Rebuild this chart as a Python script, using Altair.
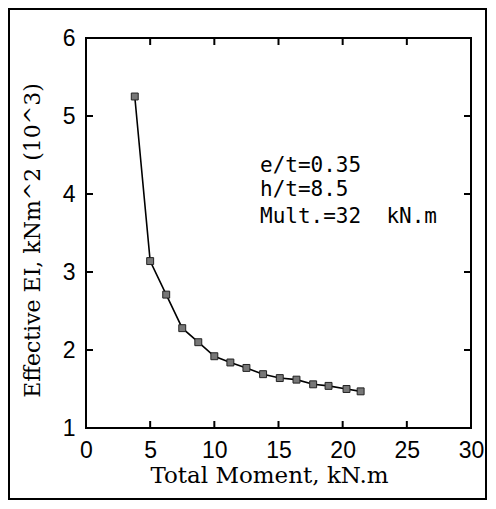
import altair as alt
import pandas as pd

moment = [3.8, 5.0, 6.25, 7.5, 8.75, 10.0, 11.25, 12.5, 13.8, 15.1, 16.4, 17.7, 18.9, 20.3, 21.4]
ei = [5.25, 3.14, 2.71, 2.28, 2.10, 1.92, 1.84, 1.77, 1.69, 1.64, 1.62, 1.56, 1.54, 1.50, 1.47]
x_ticks = [0, 5, 10, 15, 20, 25, 30]
y_ticks = [1, 2, 3, 4, 5, 6]
notes = ["e/t=0.35", "h/t=8.5", "Mult.=32\u00a0\u00a0kN.m"]

W, H = 385, 390
SERIF = "DejaVu Serif"
SANS = "Liberation Sans"
MONO = "DejaVu Sans Mono"

df = pd.DataFrame({"m": moment, "ei": ei})
xt = pd.DataFrame({"v": x_ticks})
yt = pd.DataFrame({"v": y_ticks})

xs = alt.Scale(domain=[0, 30], nice=False, zero=False)
ys = alt.Scale(domain=[1, 6], nice=False, zero=False)

base = alt.Chart(df)

line = base.mark_line(color="black", strokeWidth=1.6).encode(
    x=alt.X("m:Q", scale=xs, axis=alt.Axis(
        values=x_ticks, format="d", title="Total Moment, kN.m", grid=False, ticks=False,
        domain=False, labelFlush=False, labelFont=SANS, labelFontSize=23, labelColor="black",
        labelPadding=11, titleFont=SERIF, titleFontSize=23, titleFontWeight="normal",
        titleColor="black", titlePadding=2, titleX=183)),
    y=alt.Y("ei:Q", scale=ys, axis=alt.Axis(
        values=y_ticks, format="d", title="Effective EI, kNm^2 (10^3)", grid=False, ticks=False,
        domain=False, labelFlush=False, labelFont=SANS, labelFontSize=23, labelColor="black",
        labelPadding=11, titleFont=SERIF, titleFontSize=22, titleFontWeight="normal",
        titleColor="black", titlePadding=18, titleY=202)),
)

pts = base.mark_square(size=48, color="#777777", stroke="#222222", strokeWidth=1, opacity=1).encode(
    x=alt.X("m:Q", scale=xs), y=alt.Y("ei:Q", scale=ys))

tick_len = 7
xb = alt.Chart(xt).mark_rule(color="black", strokeWidth=2).encode(
    x=alt.X("v:Q", scale=xs), y=alt.value(H), y2=alt.value(H - tick_len))
xtop = alt.Chart(xt).mark_rule(color="black", strokeWidth=2).encode(
    x=alt.X("v:Q", scale=xs), y=alt.value(0), y2=alt.value(tick_len))
yl = alt.Chart(yt).mark_rule(color="black", strokeWidth=2).encode(
    y=alt.Y("v:Q", scale=ys), x=alt.value(0), x2=alt.value(tick_len))
yr = alt.Chart(yt).mark_rule(color="black", strokeWidth=2).encode(
    y=alt.Y("v:Q", scale=ys), x=alt.value(W), x2=alt.value(W - tick_len))

note_y = [134, 158, 185]
txts = [
    alt.Chart(df.head(1)).mark_text(align="left", baseline="alphabetic", font=MONO,
                                    fontSize=21, color="black", text=t).encode(
        x=alt.value(174), y=alt.value(yy))
    for t, yy in zip(notes, note_y)
]

frame = alt.Chart(xt.head(1)).mark_rect(fill=None, stroke="black", strokeWidth=2, clip=False).encode(
    x=alt.value(-77), x2=alt.value(400), y=alt.value(-29), y2=alt.value(461))

chart = alt.layer(line, pts, xb, xtop, yl, yr, *txts, frame).properties(
    width=W, height=H,
    autosize=alt.AutoSizeParams(type="none"),
    padding={"left": 78, "top": 30, "right": 16, "bottom": 72},
).configure_view(stroke="black", strokeWidth=2)

chart.save("out.html", embed_options={"renderer": "svg", "actions": False})
